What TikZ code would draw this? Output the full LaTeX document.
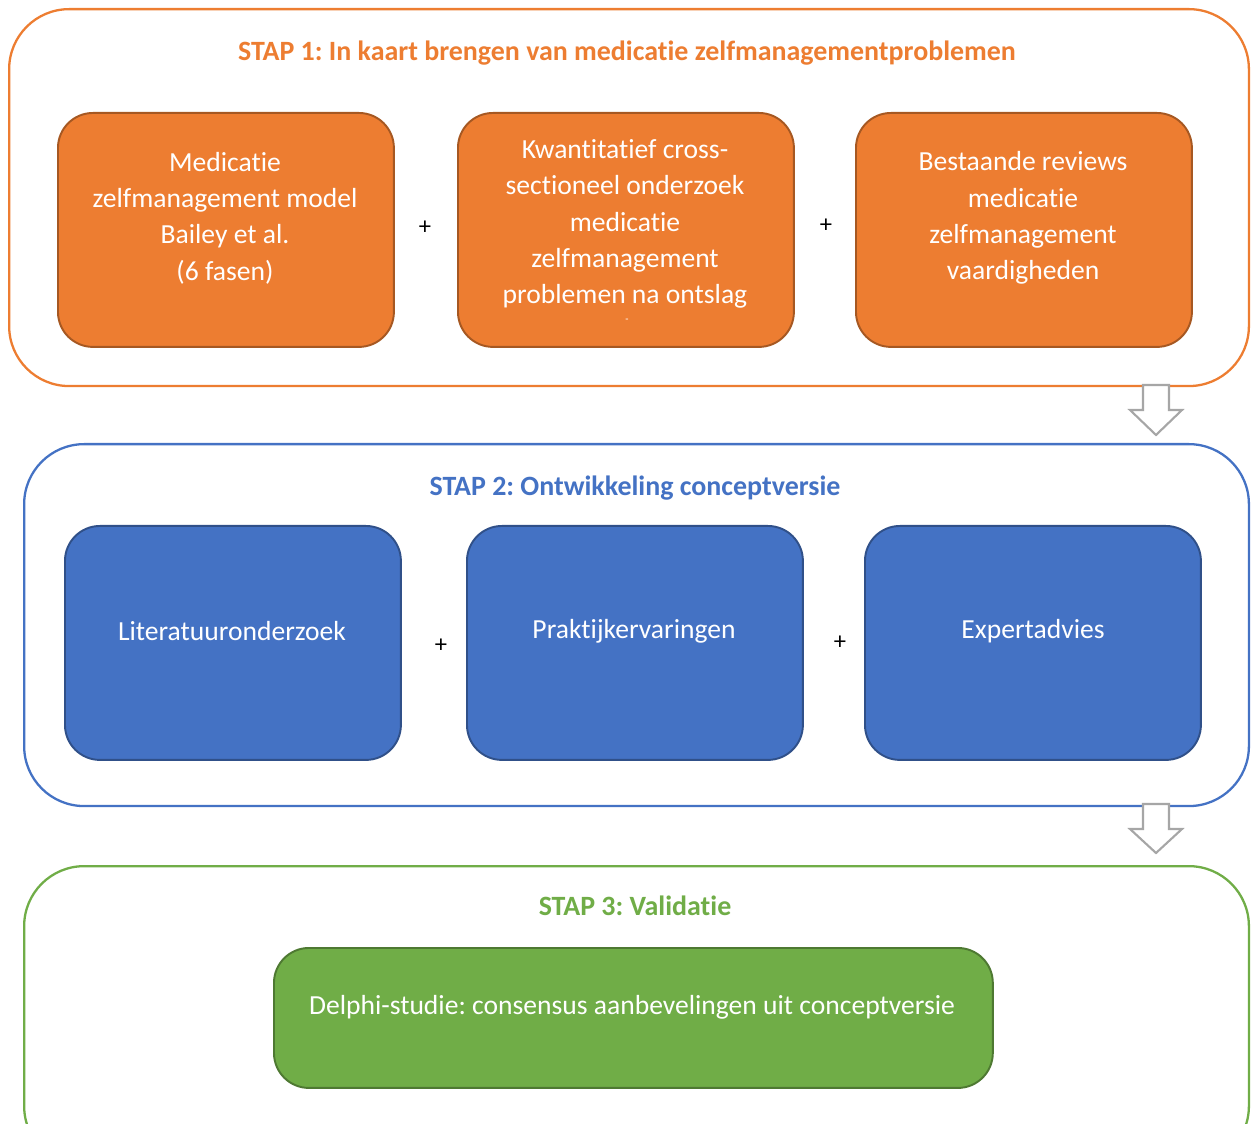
\documentclass[tikz,border=0pt]{standalone}
\usepackage{fontspec}
\setmainfont{Carlito}[RawFeature=-liga]
\usetikzlibrary{positioning}
\definecolor{stoporange}{HTML}{ED7D31}
\definecolor{stopblue}{HTML}{4472C4}
\definecolor{stopgreen}{HTML}{70AD47}
\tikzset{
  frame/.style={draw=#1, line width=1.3pt, rounded corners=1.2cm, fill=white, anchor=north west, inner sep=0pt},
  stapbox/.style={draw=#1!70!black, fill=#1, line width=1.1pt, rounded corners=0.7cm, anchor=north west,
    minimum width=6.72cm, minimum height=4.68cm, inner sep=0pt},
  boxtext/.style={text=white, align=center, font=\fontsize{15.7}{20.7}\selectfont, inner sep=0pt},
  staptitle/.style={text=#1, font=\fontsize{15.9}{19}\selectfont\bfseries},
  plus/.style={font=\fontsize{14}{16}\selectfont},
  blockarrow/.style={draw=black!35, fill=white, line width=1.2pt}
}
\begin{document}
\frenchspacing
\begin{tikzpicture}[x=0.02cm,y=-0.02cm]
		%%%%% START %%%%%
		\useasboundingbox (0,0) rectangle (1251,1124);
		\clip (0,0) rectangle (1251,1124);
		
		% stap 1
		\node[frame=stoporange, minimum width=24.8cm, minimum height=7.54cm] (frame1) at (8,8) {};
		\node[staptitle=stoporange] (title1) at (627,53) {STAP 1: In kaart brengen van medicatie zelfmanagementproblemen};
		\node[stapbox=stoporange] (model) at (57,112) {};
		\node[stapbox=stoporange] (onderzoek) at (457,112) {};
		\node[stapbox=stoporange] (reviews) at (855,112) {};
		\node[boxtext] at (225,218) {Medicatie\\zelfmanagement model\\Bailey et al.\\(6 fasen)};
		\node[boxtext] at (625,224) {Kwantitatief cross-\\sectioneel onderzoek\\medicatie\\zelfmanagement\\problemen na ontslag};
		\node[boxtext, font=\fontsize{6}{6}\selectfont] at (627,321) {-};
		\node[boxtext] at (1023,218) {Bestaande reviews\\medicatie\\zelfmanagement\\vaardigheden};
		\node[plus] (plus1) at (425,228) {+};
		\node[plus] (plus2) at (826,226) {+};
		
		% pijl
		\draw[blockarrow] (1143,385) -- (1169,385) -- (1169,410) -- (1182,410) -- (1156,435) -- (1130,410) -- (1143,410) -- cycle;
		
		% stap 2
		\node[frame=stopblue, minimum width=24.5cm, minimum height=7.24cm] (frame2) at (23,443) {};
		\node[staptitle=stopblue] (title2) at (635,488) {STAP 2: Ontwikkeling conceptversie};
		\node[stapbox=stopblue] (literatuur) at (64,525) {};
		\node[stapbox=stopblue] (praktijk) at (466,525) {};
		\node[stapbox=stopblue] (expert) at (864,525) {};
		\node[boxtext] at (232,631) {Literatuuronderzoek};
		\node[boxtext] at (634,631) {Praktijkervaringen};
		\node[boxtext] at (1033,631) {Expertadvies};
		\node[plus] (plus3) at (441,646) {+};
		\node[plus] (plus4) at (840,643) {+};
		
		% pijl
		\draw[blockarrow] (1143,804) -- (1169,804) -- (1169,829) -- (1182,829) -- (1156,853) -- (1130,829) -- (1143,829) -- cycle;
		
		% stap 3
		\node[frame=stopgreen, minimum width=24.5cm, minimum height=6cm] (frame3) at (23,865) {};
		\node[staptitle=stopgreen] (title3) at (635,906) {STAP 3: Validatie};
		\node[stapbox=stopgreen, minimum width=14.38cm, minimum height=2.8cm] (delphi) at (273,947) {};
		\node[boxtext] at (632,1007) {Delphi-studie: consensus aanbevelingen uit conceptversie};
		
		%%%%% END %%%%%
\end{tikzpicture}
\end{document}
